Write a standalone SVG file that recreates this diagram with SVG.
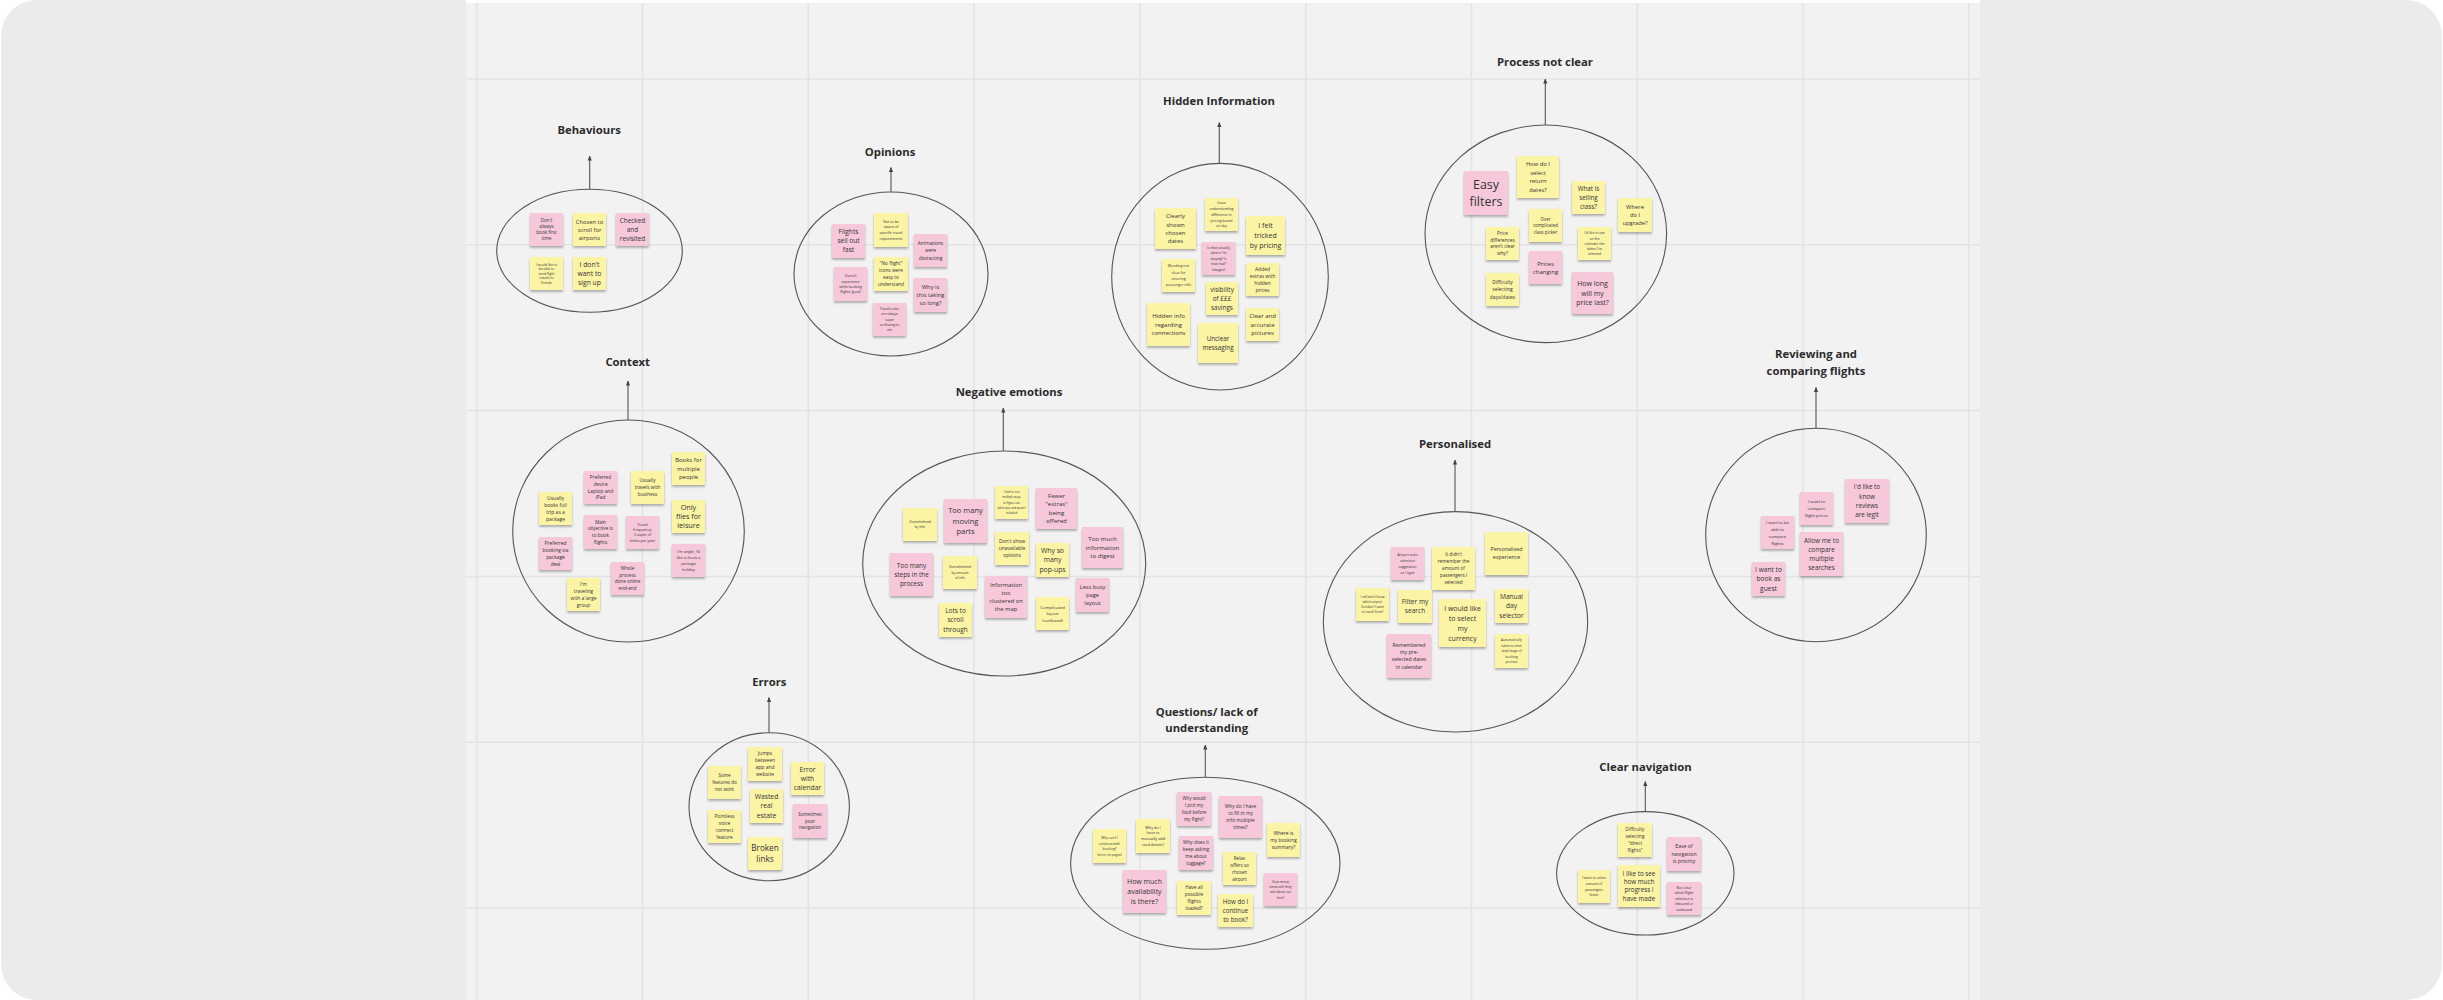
<svg xmlns="http://www.w3.org/2000/svg" width="2443" height="1000" viewBox="0 0 2443 1000">
<defs>
<style>
.y{fill:#fcf4a5}
.p{fill:#f6c8da}
.st{filter:url(#sh)}
.t{font-family:'Open Sans','Noto Sans','Liberation Sans',sans-serif;fill:#333;text-anchor:middle}
.ti{font-family:'Open Sans','Noto Sans','Liberation Sans',sans-serif;font-weight:700;font-size:11.3px;fill:#2b2b2b;text-anchor:middle}
.el{fill:none;stroke:#555;stroke-width:1.1}
.ar{stroke:#555;stroke-width:1.1;fill:none;marker-end:url(#ah)}
.g{stroke:#e3e3e3;stroke-width:1.5}
</style>
<filter id="sh" x="-20%" y="-20%" width="140%" height="160%">
<feDropShadow dx="0" dy="1.8" stdDeviation="1.1" flood-color="#000" flood-opacity="0.3"/>
</filter>
<marker id="ah" markerUnits="userSpaceOnUse" markerWidth="5" markerHeight="6" refX="2.5" refY="0.5" orient="0" viewBox="0 0 5 6">
<path d="M2.5,0 L4.6,5 L0.4,5 z" fill="#444"/>
</marker>
</defs>
<rect x="0" y="0" width="2443" height="1000" fill="#ffffff"/>
<rect x="1" y="0" width="2441" height="1000" rx="36" fill="#ebebeb"/>
<rect x="466" y="0" width="1514" height="1000" fill="#ffffff"/>
<rect x="466" y="3" width="1514" height="997" fill="#f2f2f2"/>
<g id="grid">
<line class="g" x1="476.7" y1="3" x2="476.7" y2="1000"/>
<line class="g" x1="642.5" y1="3" x2="642.5" y2="1000"/>
<line class="g" x1="808.3" y1="3" x2="808.3" y2="1000"/>
<line class="g" x1="974.1" y1="3" x2="974.1" y2="1000"/>
<line class="g" x1="1139.9" y1="3" x2="1139.9" y2="1000"/>
<line class="g" x1="1305.7" y1="3" x2="1305.7" y2="1000"/>
<line class="g" x1="1471.5" y1="3" x2="1471.5" y2="1000"/>
<line class="g" x1="1637.3" y1="3" x2="1637.3" y2="1000"/>
<line class="g" x1="1803.1" y1="3" x2="1803.1" y2="1000"/>
<line class="g" x1="1968.9" y1="3" x2="1968.9" y2="1000"/>
<line class="g" x1="466" y1="79" x2="1980" y2="79"/>
<line class="g" x1="466" y1="244.8" x2="1980" y2="244.8"/>
<line class="g" x1="466" y1="410.6" x2="1980" y2="410.6"/>
<line class="g" x1="466" y1="576.4" x2="1980" y2="576.4"/>
<line class="g" x1="466" y1="742.2" x2="1980" y2="742.2"/>
<line class="g" x1="466" y1="908" x2="1980" y2="908"/>
</g>

<g id="connectors">
<line class="ar" x1="589.7" y1="189.3" x2="589.7" y2="156"/>
<line class="ar" x1="891" y1="191.7" x2="891" y2="167.5"/>
<line class="ar" x1="1219.3" y1="163.3" x2="1219.3" y2="122.5"/>
<line class="ar" x1="1545.3" y1="125" x2="1545.3" y2="79"/>
<line class="ar" x1="628" y1="420" x2="628" y2="381"/>
<line class="ar" x1="1003.3" y1="451" x2="1003.3" y2="408"/>
<line class="ar" x1="1455" y1="511.7" x2="1455" y2="460"/>
<line class="ar" x1="1816" y1="428.3" x2="1816" y2="387.5"/>
<line class="ar" x1="769" y1="732.7" x2="769" y2="697.5"/>
<line class="ar" x1="1205.3" y1="777.3" x2="1205.3" y2="745"/>
<line class="ar" x1="1645.3" y1="811.7" x2="1645.3" y2="781.5"/>
</g>

<g id="behaviours">
<text class="ti" x="589.2" y="134">Behaviours</text>
<ellipse class="el" cx="589.5" cy="250.8" rx="92.8" ry="61.5"/>
<g id="b1"><rect class="p st" x="530" y="213" width="33" height="33"/><text class="t" font-size="4.6" x="546.5" y="221.8"><tspan x="546.5">Don't</tspan><tspan x="546.5" dy="6.2">always</tspan><tspan x="546.5" dy="6.2">book first</tspan><tspan x="546.5" dy="6.2">time</tspan></text></g>
<g id="b2"><rect class="y st" x="573" y="213" width="33" height="33"/><text class="t" font-size="5.8" x="589.5" y="223.5"><tspan x="589.5">Chosen to</tspan><tspan x="589.5" dy="8">scroll for</tspan><tspan x="589.5" dy="8">airports</tspan></text></g>
<g id="b3"><rect class="p st" x="616" y="213" width="33" height="33"/><text class="t" font-size="6.4" x="632.5" y="222.7"><tspan x="632.5">Checked</tspan><tspan x="632.5" dy="9">and</tspan><tspan x="632.5" dy="9">revisited</tspan></text></g>
<g id="b4"><rect class="y st" x="530" y="257" width="33" height="33"/><text class="t" font-size="3.3" x="546.5" y="265.5"><tspan x="546.5">I would like to</tspan><tspan x="546.5" dy="4.6">be able to</tspan><tspan x="546.5" dy="4.6">send flight</tspan><tspan x="546.5" dy="4.6">results to</tspan><tspan x="546.5" dy="4.6">friends</tspan></text></g>
<g id="b5"><rect class="y st" x="573" y="257" width="33" height="33"/><text class="t" font-size="6.8" x="589.5" y="266.6"><tspan x="589.5">I don't</tspan><tspan x="589.5" dy="9.3">want to</tspan><tspan x="589.5" dy="9.3">sign up</tspan></text></g>
</g>

<g id="opinions">
<text class="ti" x="890" y="155.7">Opinions</text>
<ellipse class="el" cx="891" cy="274" rx="97" ry="82"/>
<g id="o1"><rect class="p st" x="832" y="224" width="33" height="34"/><text class="t" font-size="6.6" x="848.5" y="234.3"><tspan x="848.5">Flights</tspan><tspan x="848.5" dy="9">sell out</tspan><tspan x="848.5" dy="9">fast</tspan></text></g>
<g id="o2"><rect class="y st" x="874" y="213" width="34" height="34"/><text class="t" font-size="3.6" x="891" y="222.6"><tspan x="891">Site to be</tspan><tspan x="891" dy="5.8">aware of</tspan><tspan x="891" dy="5.8">specific travel</tspan><tspan x="891" dy="5.8">requirements</tspan></text></g>
<g id="o3"><rect class="p st" x="914" y="234" width="33" height="33"/><text class="t" font-size="4.8" x="930.5" y="244.9"><tspan x="930.5">Animations</tspan><tspan x="930.5" dy="7.3">were</tspan><tspan x="930.5" dy="7.3">distracting</tspan></text></g>
<g id="o4"><rect class="p st" x="834" y="267" width="33" height="34"/><text class="t" font-size="3.5" x="850.5" y="277.3"><tspan x="850.5">Overall</tspan><tspan x="850.5" dy="5.3">experience</tspan><tspan x="850.5" dy="5.3">while booking</tspan><tspan x="850.5" dy="5.3">flights 'good'</tspan></text></g>
<g id="o5"><rect class="y st" x="874" y="257" width="34" height="34"/><text class="t" font-size="4.8" x="891" y="265.2"><tspan x="891">"No flight"</tspan><tspan x="891" dy="7">icons were</tspan><tspan x="891" dy="7">easy to</tspan><tspan x="891" dy="7">understand</tspan></text></g>
<g id="o6"><rect class="p st" x="914" y="278" width="33" height="34"/><text class="t" font-size="5.8" x="930.5" y="289.2"><tspan x="930.5">Why is</tspan><tspan x="930.5" dy="7.8">this taking</tspan><tspan x="930.5" dy="7.8">so long?</tspan></text></g>
<g id="o7"><rect class="p st" x="873" y="303" width="33" height="33"/><text class="t" font-size="3.4" x="889.5" y="310.1"><tspan x="889.5">Travels sites</tspan><tspan x="889.5" dy="5.3">are always</tspan><tspan x="889.5" dy="5.3">super</tspan><tspan x="889.5" dy="5.3">confusing to</tspan><tspan x="889.5" dy="5.3">me</tspan></text></g>
</g>

<g id="hidden-information">
<text class="ti" x="1219" y="104.7">Hidden Information</text>
<ellipse class="el" cx="1220" cy="276.7" rx="108.3" ry="113.3"/>
<g id="h1"><rect class="y st" x="1155" y="208" width="41" height="41"/><text class="t" font-size="6" x="1175.5" y="218.2"><tspan x="1175.5">Clearly</tspan><tspan x="1175.5" dy="8.3">shown</tspan><tspan x="1175.5" dy="8.3">chosen</tspan><tspan x="1175.5" dy="8.3">dates</tspan></text></g>
<g id="h2"><rect class="y st" x="1205" y="198" width="33" height="33"/><text class="t" font-size="3.5" x="1221.5" y="204.1"><tspan x="1221.5">Issue</tspan><tspan x="1221.5" dy="5.8">understanding</tspan><tspan x="1221.5" dy="5.8">difference in</tspan><tspan x="1221.5" dy="5.8">pricing based</tspan><tspan x="1221.5" dy="5.8">on day</tspan></text></g>
<g id="h3"><rect class="y st" x="1246" y="216" width="39" height="39"/><text class="t" font-size="7" x="1265.5" y="228"><tspan x="1265.5">I felt</tspan><tspan x="1265.5" dy="10">tricked</tspan><tspan x="1265.5" dy="10">by pricing</tspan></text></g>
<g id="h4"><rect class="p st" x="1202" y="242" width="33" height="33"/><text class="t" font-size="3.4" x="1218.5" y="248.5"><tspan x="1218.5">Is that actually</tspan><tspan x="1218.5" dy="5.6">where I'm</tspan><tspan x="1218.5" dy="5.6">staying? Is</tspan><tspan x="1218.5" dy="5.6">that real?</tspan><tspan x="1218.5" dy="5.6">(images)</tspan></text></g>
<g id="h5"><rect class="y st" x="1162" y="259" width="33" height="33"/><text class="t" font-size="3.7" x="1178.5" y="267.4"><tspan x="1178.5">Wording not</tspan><tspan x="1178.5" dy="6.3">clear for</tspan><tspan x="1178.5" dy="6.3">entering</tspan><tspan x="1178.5" dy="6.3">passenger info</tspan></text></g>
<g id="h6"><rect class="y st" x="1246" y="263" width="33" height="33"/><text class="t" font-size="5" x="1262.5" y="270.8"><tspan x="1262.5">Added</tspan><tspan x="1262.5" dy="7">extras with</tspan><tspan x="1262.5" dy="7">hidden</tspan><tspan x="1262.5" dy="7">prices</tspan></text></g>
<g id="h7"><rect class="y st" x="1206" y="282" width="32" height="33"/><text class="t" font-size="6.4" x="1222" y="291.7"><tspan x="1222">visibility</tspan><tspan x="1222" dy="9">of £££</tspan><tspan x="1222" dy="9">savings</tspan></text></g>
<g id="h8"><rect class="y st" x="1147" y="303" width="43" height="43"/><text class="t" font-size="6" x="1168.5" y="318.3"><tspan x="1168.5">Hidden info</tspan><tspan x="1168.5" dy="8.3">regarding</tspan><tspan x="1168.5" dy="8.3">connections</tspan></text></g>
<g id="h9"><rect class="y st" x="1246" y="308" width="33" height="33"/><text class="t" font-size="6" x="1262.5" y="318.3"><tspan x="1262.5">Clear and</tspan><tspan x="1262.5" dy="8.3">accurate</tspan><tspan x="1262.5" dy="8.3">pictures</tspan></text></g>
<g id="h10"><rect class="y st" x="1198" y="323" width="40" height="40"/><text class="t" font-size="6.3" x="1218" y="340.9"><tspan x="1218">Unclear</tspan><tspan x="1218" dy="8.7">messaging</tspan></text></g>
</g>

<g id="process-not-clear">
<text class="ti" x="1545" y="65.7">Process not clear</text>
<ellipse class="el" cx="1545.8" cy="233.8" rx="120.8" ry="108.8"/>
<g id="p1"><rect class="p st" x="1464" y="171" width="44" height="44"/><text class="t" font-size="12.5" x="1486" y="188.9"><tspan x="1486">Easy</tspan><tspan x="1486" dy="17">filters</tspan></text></g>
<g id="p2"><rect class="y st" x="1517" y="156" width="42" height="42"/><text class="t" font-size="5.8" x="1538" y="166.3"><tspan x="1538">How do I</tspan><tspan x="1538" dy="8.5">select</tspan><tspan x="1538" dy="8.5">return</tspan><tspan x="1538" dy="8.5">dates?</tspan></text></g>
<g id="p3"><rect class="y st" x="1572" y="181" width="33" height="33"/><text class="t" font-size="6.3" x="1588.5" y="190.7"><tspan x="1588.5">What is</tspan><tspan x="1588.5" dy="9">selling</tspan><tspan x="1588.5" dy="9">class?</tspan></text></g>
<g id="p4"><rect class="y st" x="1618" y="198" width="34" height="34"/><text class="t" font-size="5.8" x="1635" y="209"><tspan x="1635">Where</tspan><tspan x="1635" dy="8">do I</tspan><tspan x="1635" dy="8">upgrade?</tspan></text></g>
<g id="p5"><rect class="y st" x="1529" y="209" width="33" height="33"/><text class="t" font-size="4.4" x="1545.5" y="220.5"><tspan x="1545.5">Over</tspan><tspan x="1545.5" dy="6.5">complicated</tspan><tspan x="1545.5" dy="6.5">class picker</tspan></text></g>
<g id="p6"><rect class="y st" x="1486" y="227" width="33" height="33"/><text class="t" font-size="4.7" x="1502.5" y="235.2"><tspan x="1502.5">Price</tspan><tspan x="1502.5" dy="6.6">differences</tspan><tspan x="1502.5" dy="6.6">aren't clear</tspan><tspan x="1502.5" dy="6.6">why?</tspan></text></g>
<g id="p7"><rect class="y st" x="1578" y="227" width="33" height="33"/><text class="t" font-size="3.4" x="1594.5" y="234.3"><tspan x="1594.5">I'd like to see</tspan><tspan x="1594.5" dy="5.2">on the</tspan><tspan x="1594.5" dy="5.2">calendar the</tspan><tspan x="1594.5" dy="5.2">dates I've</tspan><tspan x="1594.5" dy="5.2">selected</tspan></text></g>
<g id="p8"><rect class="p st" x="1529" y="251" width="33" height="33"/><text class="t" font-size="6" x="1545.5" y="265.5"><tspan x="1545.5">Prices</tspan><tspan x="1545.5" dy="8.3">changing</tspan></text></g>
<g id="p9"><rect class="y st" x="1486" y="273" width="33" height="33"/><text class="t" font-size="5" x="1502.5" y="283.8"><tspan x="1502.5">Difficulty</tspan><tspan x="1502.5" dy="7.5">selecting</tspan><tspan x="1502.5" dy="7.5">days/dates</tspan></text></g>
<g id="p10"><rect class="p st" x="1572" y="272" width="41" height="42"/><text class="t" font-size="7" x="1592.5" y="285.9"><tspan x="1592.5">How long</tspan><tspan x="1592.5" dy="9.6">will my</tspan><tspan x="1592.5" dy="9.6">price last?</tspan></text></g>
</g>

<g id="context">
<text class="ti" x="627.7" y="365.7">Context</text>
<ellipse class="el" cx="628.5" cy="531" rx="115.8" ry="111"/>
<g id="c1"><rect class="y st" x="672" y="452" width="33" height="33"/><text class="t" font-size="6" x="688.5" y="461.9"><tspan x="688.5">Books for</tspan><tspan x="688.5" dy="8.7">multiple</tspan><tspan x="688.5" dy="8.7">people</tspan></text></g>
<g id="c2"><rect class="p st" x="584" y="471" width="33" height="33"/><text class="t" font-size="4.8" x="600.5" y="479"><tspan x="600.5">Preferred</tspan><tspan x="600.5" dy="6.8">device</tspan><tspan x="600.5" dy="6.8">Laptop and</tspan><tspan x="600.5" dy="6.8">iPad</tspan></text></g>
<g id="c3"><rect class="y st" x="631" y="471" width="33" height="33"/><text class="t" font-size="4.8" x="647.5" y="482.2"><tspan x="647.5">Usually</tspan><tspan x="647.5" dy="7">travels with</tspan><tspan x="647.5" dy="7">business</tspan></text></g>
<g id="c4"><rect class="y st" x="672" y="500" width="33" height="33"/><text class="t" font-size="7.2" x="688.5" y="509.7"><tspan x="688.5">Only</tspan><tspan x="688.5" dy="9.3">flies for</tspan><tspan x="688.5" dy="9.3">leisure</tspan></text></g>
<g id="c5"><rect class="y st" x="539" y="492" width="33" height="33"/><text class="t" font-size="5" x="555.5" y="499.8"><tspan x="555.5">Usually</tspan><tspan x="555.5" dy="7">books full</tspan><tspan x="555.5" dy="7">trip as a</tspan><tspan x="555.5" dy="7">package</tspan></text></g>
<g id="c6"><rect class="p st" x="584" y="515" width="33" height="34"/><text class="t" font-size="4.8" x="600.5" y="523.5"><tspan x="600.5">Main</tspan><tspan x="600.5" dy="6.8">objective is</tspan><tspan x="600.5" dy="6.8">to book</tspan><tspan x="600.5" dy="6.8">flights</tspan></text></g>
<g id="c7"><rect class="p st" x="626" y="516" width="33" height="33"/><text class="t" font-size="3.8" x="642.5" y="526"><tspan x="642.5">Travel</tspan><tspan x="642.5" dy="5.2">frequency:</tspan><tspan x="642.5" dy="5.2">Couple of</tspan><tspan x="642.5" dy="5.2">times per year</tspan></text></g>
<g id="c8"><rect class="p st" x="539" y="537" width="33" height="33"/><text class="t" font-size="4.9" x="555.5" y="544.7"><tspan x="555.5">Preferred</tspan><tspan x="555.5" dy="7">booking via</tspan><tspan x="555.5" dy="7">package</tspan><tspan x="555.5" dy="7">deal</tspan></text></g>
<g id="c9"><rect class="p st" x="672" y="544" width="33" height="33"/><text class="t" font-size="3.8" x="688.5" y="552.5"><tspan x="688.5">I'm single, I'd</tspan><tspan x="688.5" dy="6.2">like to book a</tspan><tspan x="688.5" dy="6.2">package</tspan><tspan x="688.5" dy="6.2">holiday</tspan></text></g>
<g id="c10"><rect class="p st" x="611" y="562" width="33" height="33"/><text class="t" font-size="4.6" x="627.5" y="570.2"><tspan x="627.5">Whole</tspan><tspan x="627.5" dy="6.6">process</tspan><tspan x="627.5" dy="6.6">done online</tspan><tspan x="627.5" dy="6.6">end-end</tspan></text></g>
<g id="c11"><rect class="y st" x="567" y="578" width="33" height="33"/><text class="t" font-size="4.8" x="583.5" y="585.9"><tspan x="583.5">I'm</tspan><tspan x="583.5" dy="6.9">traveling</tspan><tspan x="583.5" dy="6.9">with a large</tspan><tspan x="583.5" dy="6.9">group</tspan></text></g>
</g>

<g id="negative-emotions">
<text class="ti" x="1009" y="395.7">Negative emotions</text>
<ellipse class="el" cx="1004.2" cy="563.5" rx="141.5" ry="112.5"/>
<g id="n1"><rect class="y st" x="903" y="508" width="34" height="33"/><text class="t" font-size="3.3" x="920" y="523"><tspan x="920">Overwhelmed</tspan><tspan x="920" dy="5.3">by info</tspan></text></g>
<g id="n2"><rect class="p st" x="944" y="499" width="43" height="44"/><text class="t" font-size="7.5" x="965.5" y="513.2"><tspan x="965.5">Too many</tspan><tspan x="965.5" dy="10.4">moving</tspan><tspan x="965.5" dy="10.4">parts</tspan></text></g>
<g id="n3"><rect class="y st" x="995" y="486" width="33" height="33"/><text class="t" font-size="2.9" x="1011.5" y="493.1"><tspan x="1011.5">I had to test</tspan><tspan x="1011.5" dy="5.2">multiple ways</tspan><tspan x="1011.5" dy="5.2">to figure out</tspan><tspan x="1011.5" dy="5.2">what was and wasn't</tspan><tspan x="1011.5" dy="5.2">included</tspan></text></g>
<g id="n4"><rect class="p st" x="1036" y="488" width="41" height="41"/><text class="t" font-size="6" x="1056.5" y="498"><tspan x="1056.5">Fewer</tspan><tspan x="1056.5" dy="8.4">"extras"</tspan><tspan x="1056.5" dy="8.4">being</tspan><tspan x="1056.5" dy="8.4">offered</tspan></text></g>
<g id="n5"><rect class="p st" x="1082" y="527" width="41" height="41"/><text class="t" font-size="6.1" x="1102.5" y="541.1"><tspan x="1102.5">Too much</tspan><tspan x="1102.5" dy="8.5">information</tspan><tspan x="1102.5" dy="8.5">to digest</tspan></text></g>
<g id="n6"><rect class="y st" x="995" y="532" width="34" height="33"/><text class="t" font-size="5" x="1012" y="543"><tspan x="1012">Don't show</tspan><tspan x="1012" dy="7.2">unavailable</tspan><tspan x="1012" dy="7.2">options</tspan></text></g>
<g id="n7"><rect class="y st" x="1036" y="543" width="33" height="34"/><text class="t" font-size="6.8" x="1052.5" y="553.2"><tspan x="1052.5">Why so</tspan><tspan x="1052.5" dy="9.2">many</tspan><tspan x="1052.5" dy="9.2">pop-ups</tspan></text></g>
<g id="n8"><rect class="p st" x="890" y="553" width="43" height="43"/><text class="t" font-size="6.4" x="911.5" y="567.7"><tspan x="911.5">Too many</tspan><tspan x="911.5" dy="9">steps in the</tspan><tspan x="911.5" dy="9">process</tspan></text></g>
<g id="n9"><rect class="y st" x="943" y="556" width="34" height="33"/><text class="t" font-size="3.4" x="960" y="568.2"><tspan x="960">Overwhelmed</tspan><tspan x="960" dy="5.5">by amount</tspan><tspan x="960" dy="5.5">of info</tspan></text></g>
<g id="n10"><rect class="p st" x="985" y="576" width="42" height="42"/><text class="t" font-size="5.8" x="1006" y="586.7"><tspan x="1006">Information</tspan><tspan x="1006" dy="8.2">too</tspan><tspan x="1006" dy="8.2">clustered on</tspan><tspan x="1006" dy="8.2">the map</tspan></text></g>
<g id="n11"><rect class="p st" x="1076" y="578" width="33" height="34"/><text class="t" font-size="5.7" x="1092.5" y="588.7"><tspan x="1092.5">Less busy</tspan><tspan x="1092.5" dy="8.3">page</tspan><tspan x="1092.5" dy="8.3">layout</tspan></text></g>
<g id="n12"><rect class="y st" x="939" y="603" width="33" height="34"/><text class="t" font-size="6.5" x="955.5" y="613.1"><tspan x="955.5">Lots to</tspan><tspan x="955.5" dy="9.2">scroll</tspan><tspan x="955.5" dy="9.2">through</tspan></text></g>
<g id="n13"><rect class="y st" x="1036" y="597" width="33" height="33"/><text class="t" font-size="4.2" x="1052.5" y="608.5"><tspan x="1052.5">Complicated</tspan><tspan x="1052.5" dy="6.5">layout</tspan><tspan x="1052.5" dy="6.5">(confused)</tspan></text></g>
</g>

<g id="personalised">
<text class="ti" x="1455" y="448">Personalised</text>
<ellipse class="el" cx="1455.5" cy="621.8" rx="132.2" ry="110.2"/>
<g id="s1"><rect class="p st" x="1391" y="547" width="33" height="33"/><text class="t" font-size="3.6" x="1407.5" y="555.8"><tspan x="1407.5">Airport auto</tspan><tspan x="1407.5" dy="6">selection</tspan><tspan x="1407.5" dy="6">suggestion</tspan><tspan x="1407.5" dy="6">as I type</tspan></text></g>
<g id="s2"><rect class="y st" x="1432" y="547" width="43" height="43"/><text class="t" font-size="4.7" x="1453.5" y="556.1"><tspan x="1453.5">It didn't</tspan><tspan x="1453.5" dy="7">remember the</tspan><tspan x="1453.5" dy="7">amount of</tspan><tspan x="1453.5" dy="7">passengers I</tspan><tspan x="1453.5" dy="7">selected</tspan></text></g>
<g id="s3"><rect class="y st" x="1485" y="532" width="43" height="43"/><text class="t" font-size="5.4" x="1506.5" y="551.4"><tspan x="1506.5">Personalised</tspan><tspan x="1506.5" dy="8">experience</tspan></text></g>
<g id="s4"><rect class="y st" x="1356" y="588" width="33" height="33"/><text class="t" font-size="3.2" x="1372.5" y="597.8"><tspan x="1372.5">I still don't know</tspan><tspan x="1372.5" dy="5.2">which airport</tspan><tspan x="1372.5" dy="5.2">(London) I want</tspan><tspan x="1372.5" dy="5.2">to travel from?</tspan></text></g>
<g id="s5"><rect class="y st" x="1398" y="590" width="34" height="33"/><text class="t" font-size="6.6" x="1415" y="604.3"><tspan x="1415">Filter my</tspan><tspan x="1415" dy="9">search</tspan></text></g>
<g id="s6"><rect class="y st" x="1439" y="599" width="47" height="48"/><text class="t" font-size="7" x="1462.5" y="610.5"><tspan x="1462.5">I would like</tspan><tspan x="1462.5" dy="10">to select</tspan><tspan x="1462.5" dy="10">my</tspan><tspan x="1462.5" dy="10">currency</tspan></text></g>
<g id="s7"><rect class="y st" x="1495" y="589" width="33" height="34"/><text class="t" font-size="6.6" x="1511.5" y="599.1"><tspan x="1511.5">Manual</tspan><tspan x="1511.5" dy="9.2">day</tspan><tspan x="1511.5" dy="9.2">selector</tspan></text></g>
<g id="s8"><rect class="p st" x="1387" y="634" width="44" height="44"/><text class="t" font-size="5.2" x="1409" y="647"><tspan x="1409">Remembered</tspan><tspan x="1409" dy="7.2">my pre-</tspan><tspan x="1409" dy="7.2">selected dates</tspan><tspan x="1409" dy="7.2">in calendar</tspan></text></g>
<g id="s9"><rect class="y st" x="1495" y="634" width="33" height="34"/><text class="t" font-size="3.3" x="1511.5" y="641.4"><tspan x="1511.5">Automatically</tspan><tspan x="1511.5" dy="5.4">taken to next</tspan><tspan x="1511.5" dy="5.4">step/stage of</tspan><tspan x="1511.5" dy="5.4">booking</tspan><tspan x="1511.5" dy="5.4">process</tspan></text></g>
</g>

<g id="reviewing">
<text class="ti" x="1816" y="358"><tspan x="1816">Reviewing and</tspan><tspan x="1816" dy="16.7">comparing flights</tspan></text>
<ellipse class="el" cx="1816" cy="535" rx="110.3" ry="106.7"/>
<g id="r1"><rect class="p st" x="1845" y="479" width="44" height="44"/><text class="t" font-size="6.3" x="1867" y="489.4"><tspan x="1867">I'd like to</tspan><tspan x="1867" dy="9.2">know</tspan><tspan x="1867" dy="9.2">reviews</tspan><tspan x="1867" dy="9.2">are legit</tspan></text></g>
<g id="r2"><rect class="p st" x="1800" y="492" width="33" height="33"/><text class="t" font-size="4.3" x="1816.5" y="503"><tspan x="1816.5">I want to</tspan><tspan x="1816.5" dy="7">compare</tspan><tspan x="1816.5" dy="7">flight prices</tspan></text></g>
<g id="r3"><rect class="p st" x="1761" y="516" width="33" height="33"/><text class="t" font-size="4.2" x="1777.5" y="523.5"><tspan x="1777.5">I want to be</tspan><tspan x="1777.5" dy="7">able to</tspan><tspan x="1777.5" dy="7">compare</tspan><tspan x="1777.5" dy="7">flights</tspan></text></g>
<g id="r4"><rect class="p st" x="1800" y="532" width="43" height="44"/><text class="t" font-size="6.4" x="1821.5" y="542.7"><tspan x="1821.5">Allow me to</tspan><tspan x="1821.5" dy="9">compare</tspan><tspan x="1821.5" dy="9">multiple</tspan><tspan x="1821.5" dy="9">searches</tspan></text></g>
<g id="r5"><rect class="p st" x="1752" y="562" width="33" height="34"/><text class="t" font-size="6.6" x="1768.5" y="572"><tspan x="1768.5">I want to</tspan><tspan x="1768.5" dy="9.3">book as</tspan><tspan x="1768.5" dy="9.3">guest</tspan></text></g>
</g>

<g id="errors">
<text class="ti" x="769.3" y="685.7">Errors</text>
<ellipse class="el" cx="769.2" cy="806.7" rx="80.2" ry="74"/>
<g id="e1"><rect class="y st" x="748" y="747" width="34" height="34"/><text class="t" font-size="5" x="765" y="755.3"><tspan x="765">Jumps</tspan><tspan x="765" dy="7">between</tspan><tspan x="765" dy="7">app and</tspan><tspan x="765" dy="7">website</tspan></text></g>
<g id="e2"><rect class="y st" x="791" y="762" width="33" height="33"/><text class="t" font-size="6.8" x="807.5" y="771.7"><tspan x="807.5">Error</tspan><tspan x="807.5" dy="9.2">with</tspan><tspan x="807.5" dy="9.2">calendar</tspan></text></g>
<g id="e3"><rect class="y st" x="708" y="766" width="33" height="33"/><text class="t" font-size="4.6" x="724.5" y="777.1"><tspan x="724.5">Some</tspan><tspan x="724.5" dy="7">features do</tspan><tspan x="724.5" dy="7">not work</tspan></text></g>
<g id="e4"><rect class="y st" x="750" y="789" width="33" height="34"/><text class="t" font-size="6.8" x="766.5" y="799.1"><tspan x="766.5">Wasted</tspan><tspan x="766.5" dy="9.3">real</tspan><tspan x="766.5" dy="9.3">estate</tspan></text></g>
<g id="e5"><rect class="p st" x="793" y="804" width="34" height="34"/><text class="t" font-size="4.5" x="810" y="815.9"><tspan x="810">Sometimes</tspan><tspan x="810" dy="6.7">poor</tspan><tspan x="810" dy="6.7">navigation</tspan></text></g>
<g id="e6"><rect class="y st" x="708" y="810" width="33" height="33"/><text class="t" font-size="4.8" x="724.5" y="817.7"><tspan x="724.5">Pointless</tspan><tspan x="724.5" dy="7">voice</tspan><tspan x="724.5" dy="7">connect</tspan><tspan x="724.5" dy="7">feature</tspan></text></g>
<g id="e7"><rect class="y st" x="748" y="837" width="34" height="33"/><text class="t" font-size="8.2" x="765" y="850.9"><tspan x="765">Broken</tspan><tspan x="765" dy="11">links</tspan></text></g>
</g>

<g id="questions">
<text class="ti" x="1206.7" y="716.3"><tspan x="1206.7">Questions/ lack of</tspan><tspan x="1206.7" dy="16">understanding</tspan></text>
<ellipse class="el" cx="1205.3" cy="863.3" rx="134.7" ry="86"/>
<g id="q1"><rect class="p st" x="1177" y="792" width="34" height="34"/><text class="t" font-size="4.5" x="1194" y="800.1"><tspan x="1194">Why would</tspan><tspan x="1194" dy="7">I pick my</tspan><tspan x="1194" dy="7">food before</tspan><tspan x="1194" dy="7">my flight?</tspan></text></g>
<g id="q2"><rect class="p st" x="1219" y="796" width="43" height="42"/><text class="t" font-size="4.8" x="1240.5" y="808.4"><tspan x="1240.5">Why do I have</tspan><tspan x="1240.5" dy="6.9">to fill in my</tspan><tspan x="1240.5" dy="6.9">info multiple</tspan><tspan x="1240.5" dy="6.9">times?</tspan></text></g>
<g id="q3"><rect class="y st" x="1136" y="819" width="34" height="34"/><text class="t" font-size="3.8" x="1153" y="828.5"><tspan x="1153">Why do I</tspan><tspan x="1153" dy="5.9">have to</tspan><tspan x="1153" dy="5.9">manually add</tspan><tspan x="1153" dy="5.9">card details?</tspan></text></g>
<g id="q4"><rect class="y st" x="1093" y="829" width="33" height="34"/><text class="t" font-size="3.3" x="1109.5" y="839"><tspan x="1109.5">Why can't I</tspan><tspan x="1109.5" dy="5.5">continue with</tspan><tspan x="1109.5" dy="5.5">booking?</tspan><tspan x="1109.5" dy="5.5">(error on pages)</tspan></text></g>
<g id="q5"><rect class="p st" x="1179" y="836" width="34" height="34"/><text class="t" font-size="4.8" x="1196" y="844.4"><tspan x="1196">Why does it</tspan><tspan x="1196" dy="6.9">keep asking</tspan><tspan x="1196" dy="6.9">me about</tspan><tspan x="1196" dy="6.9">luggage?</tspan></text></g>
<g id="q6"><rect class="y st" x="1267" y="823" width="33" height="34"/><text class="t" font-size="4.9" x="1283.5" y="834.5"><tspan x="1283.5">Where is</tspan><tspan x="1283.5" dy="7.2">my booking</tspan><tspan x="1283.5" dy="7.2">summary?</tspan></text></g>
<g id="q7"><rect class="y st" x="1223" y="852" width="33" height="33"/><text class="t" font-size="4.6" x="1239.5" y="859.6"><tspan x="1239.5">Relax</tspan><tspan x="1239.5" dy="7">offers so</tspan><tspan x="1239.5" dy="7">chosen</tspan><tspan x="1239.5" dy="7">airport</tspan></text></g>
<g id="q8"><rect class="p st" x="1123" y="870" width="43" height="43"/><text class="t" font-size="7" x="1144.5" y="884.3"><tspan x="1144.5">How much</tspan><tspan x="1144.5" dy="9.7">availability</tspan><tspan x="1144.5" dy="9.7">is there?</tspan></text></g>
<g id="q9"><rect class="y st" x="1177" y="881" width="34" height="34"/><text class="t" font-size="4.8" x="1194" y="889.4"><tspan x="1194">Have all</tspan><tspan x="1194" dy="6.9">possible</tspan><tspan x="1194" dy="6.9">flights</tspan><tspan x="1194" dy="6.9">loaded?</tspan></text></g>
<g id="q10"><rect class="p st" x="1264" y="873" width="33" height="33"/><text class="t" font-size="3.4" x="1280.5" y="882.8"><tspan x="1280.5">How many</tspan><tspan x="1280.5" dy="5.3">times will they</tspan><tspan x="1280.5" dy="5.3">ask about car</tspan><tspan x="1280.5" dy="5.3">hire?</tspan></text></g>
<g id="q11"><rect class="y st" x="1218" y="894" width="35" height="33"/><text class="t" font-size="6.2" x="1235.5" y="903.9"><tspan x="1235.5">How do I</tspan><tspan x="1235.5" dy="8.8">continue</tspan><tspan x="1235.5" dy="8.8">to book?</tspan></text></g>
</g>

<g id="clear-navigation">
<text class="ti" x="1645.5" y="770.7">Clear navigation</text>
<ellipse class="el" cx="1645.3" cy="873.3" rx="88.7" ry="61.7"/>
<g id="k1"><rect class="y st" x="1618" y="823" width="34" height="34"/><text class="t" font-size="4.6" x="1635" y="831.1"><tspan x="1635">Difficulty</tspan><tspan x="1635" dy="7">selecting</tspan><tspan x="1635" dy="7">"direct</tspan><tspan x="1635" dy="7">flights"</tspan></text></g>
<g id="k2"><rect class="p st" x="1667" y="837" width="34" height="34"/><text class="t" font-size="5.2" x="1684" y="848.3"><tspan x="1684">Ease of</tspan><tspan x="1684" dy="7.5">navigation</tspan><tspan x="1684" dy="7.5">is priority</tspan></text></g>
<g id="k3"><rect class="y st" x="1578" y="870" width="32" height="33"/><text class="t" font-size="3.4" x="1594" y="879.3"><tspan x="1594">I want to select</tspan><tspan x="1594" dy="5.6">amount of</tspan><tspan x="1594" dy="5.6">passengers</tspan><tspan x="1594" dy="5.6">faster</tspan></text></g>
<g id="k4"><rect class="y st" x="1618" y="865" width="42" height="42"/><text class="t" font-size="6.3" x="1639" y="875.8"><tspan x="1639">I like to see</tspan><tspan x="1639" dy="8.3">how much</tspan><tspan x="1639" dy="8.3">progress I</tspan><tspan x="1639" dy="8.3">have made</tspan></text></g>
<g id="k5"><rect class="p st" x="1667" y="882" width="34" height="33"/><text class="t" font-size="3.5" x="1684" y="888.5"><tspan x="1684">Not clear</tspan><tspan x="1684" dy="5.6">which flight</tspan><tspan x="1684" dy="5.6">selection is</tspan><tspan x="1684" dy="5.6">inbound or</tspan><tspan x="1684" dy="5.6">outbound</tspan></text></g>
</g>
</svg>
